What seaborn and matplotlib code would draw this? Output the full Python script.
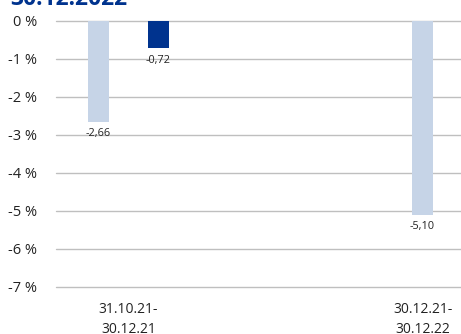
import numpy as np
import pandas as pd
import matplotlib
matplotlib.use("Agg")
import matplotlib.pyplot as plt
import seaborn as sns

# Performance per period (in %)
periods = ["31.10.21-\n30.12.21", "30.12.21-\n30.12.22"]
series = ["Fonds", "Index"]
fonds_values = [-2.66, -5.10]
index_values = [-0.72, np.nan]
y_ticks = [0, -1, -2, -3, -4, -5, -6, -7]
title = "30.12.2022"

light_blue = "#c6d4e7"
dark_blue = "#00338e"

df = pd.DataFrame({
    "Zeitraum": periods * 2,
    "Serie": [series[0]] * len(periods) + [series[1]] * len(periods),
    "Wert": fonds_values + index_values,
})

sns.set_style("white")
plt.rcParams["font.family"] = ["Open Sans", "DejaVu Sans"]

fig = plt.figure(figsize=(4.61, 3.34), dpi=100)
ax = fig.add_axes([56 / 461, 47 / 334, 1 - 56 / 461, 266 / 334])

group_width = 0.37
sns.barplot(
    data=df, x="Zeitraum", y="Wert", hue="Serie", order=periods,
    hue_order=series, palette=[light_blue, dark_blue], saturation=1,
    width=group_width, gap=0.65, ax=ax, legend=False, errorbar=None,
    linewidth=0,
)

# Value labels below each bar end
for cont in ax.containers:
    labels = [f"{v:.2f}".replace(".", ",") for v in cont.datavalues]
    ax.bar_label(cont, labels=labels, padding=4.5, fontsize=7.8, color="#222222")

ax.set_ylim(-7, 0)
ax.set_xlim(-0.2238, 1.0262)
ax.set_yticks(y_ticks)
ax.set_yticklabels([f"{t} %" for t in y_ticks], fontsize=10.5, color="#222222")
ax.yaxis.grid(True, color="#bfbfbf", linewidth=1)
for gl in ax.get_ygridlines():
    gl.set_clip_on(False)
ax.set_axisbelow(True)

# Category ticks: first under the pair, second under its single bar
ax.set_xticks([0, 1 - group_width / 4])
ax.set_xticklabels(periods, fontsize=10, color="#222222", linespacing=1.45)
ax.tick_params(axis="y", length=0, pad=13.5)
ax.tick_params(axis="x", length=0, pad=11)
ax.set_xlabel("")
ax.set_ylabel("")
for s in ax.spines.values():
    s.set_visible(False)

fig.text(10 / 461, 1 - 5 / 334, title, fontsize=16.5, fontweight="bold",
         color=dark_blue, ha="left", va="baseline")

fig.savefig("out.png", dpi=100)
